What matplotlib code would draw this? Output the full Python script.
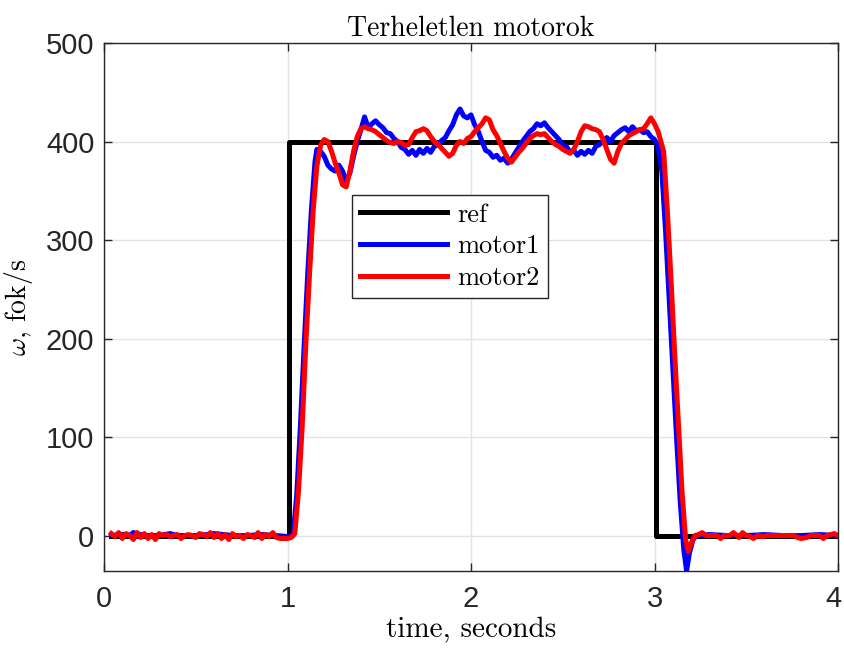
import numpy as np
import matplotlib
matplotlib.use("Agg")
import matplotlib.pyplot as plt
from matplotlib.transforms import ScaledTranslation

# reference step
t_ref = [0.04, 1.01, 1.01, 3.01, 3.01, 4.0]
w_ref = [0, 0, 400, 400, 0, 0]

# motor1 speed (fok/s)
t_m1 = [0.04, 0.10, 0.14, 0.16, 0.22, 0.30, 0.36, 0.40, 0.46, 0.52, 0.60, 0.70, 0.78, 0.86, 0.94, 1.00, 1.03,
        1.05, 1.07, 1.09, 1.11, 1.13, 1.15, 1.16, 1.18, 1.20, 1.22, 1.24, 1.26, 1.28, 1.30, 1.32, 1.34, 1.36,
        1.38, 1.40, 1.42, 1.44, 1.46, 1.48, 1.50, 1.52, 1.54, 1.56, 1.58, 1.60, 1.62, 1.64, 1.66, 1.68, 1.70,
        1.72, 1.74, 1.76, 1.78, 1.80, 1.82, 1.84, 1.86, 1.88, 1.90, 1.92, 1.94, 1.96, 1.98, 2.00, 2.02, 2.04,
        2.06, 2.08, 2.10, 2.12, 2.14, 2.16, 2.18, 2.20, 2.22, 2.24, 2.26, 2.28, 2.30, 2.32, 2.34, 2.36, 2.38,
        2.40, 2.42, 2.44, 2.46, 2.48, 2.50, 2.52, 2.54, 2.56, 2.58, 2.60, 2.62, 2.64, 2.66, 2.68, 2.70, 2.72,
        2.74, 2.76, 2.78, 2.80, 2.82, 2.84, 2.86, 2.88, 2.90, 2.92, 2.94, 2.96, 2.98, 3.00, 3.02, 3.04, 3.06,
        3.08, 3.10, 3.12, 3.14, 3.16, 3.175, 3.19, 3.21, 3.23, 3.30, 3.40, 3.50, 3.60, 3.70, 3.80, 3.90, 4.0]
w_m1 = [0, 1, 0, 3, 0, 0, 2, 0, 0, 0, 2, 0, 0, 1, 0, -1, 0,
        40, 110, 190, 265, 330, 380, 392, 390, 385, 376, 372, 370, 376, 370, 360, 368, 385,
        400, 412, 425, 414, 418, 421, 417, 414, 409, 408, 403, 400, 394, 392, 387, 391, 386,
        392, 388, 393, 389, 395, 397, 401, 404, 411, 417, 427, 433, 426, 424, 427, 417, 410,
        400, 391, 389, 384, 386, 381, 383, 378, 382, 388, 394, 400, 405, 410, 413, 418, 416,
        419, 414, 410, 406, 402, 396, 395, 389, 391, 386, 390, 387, 391, 388, 395, 397, 400,
        404, 400, 406, 409, 412, 414, 410, 415, 411, 412, 409, 410, 405, 402, 395, 370, 310,
        240, 170, 100, 35, -15, -36, -18, -4, 0, 1, 0, 0, 1, 0, 0, 1, 0]

# motor2 speed (fok/s)
t_m2 = [0.04, 0.06, 0.08, 0.10, 0.12, 0.14, 0.16, 0.18, 0.20, 0.22, 0.24, 0.26, 0.28, 0.30, 0.32, 0.34,
        0.36, 0.38, 0.40, 0.42, 0.44, 0.46, 0.48, 0.50, 0.52, 0.54, 0.56, 0.58, 0.60, 0.62, 0.64, 0.66,
        0.68, 0.70, 0.72, 0.74, 0.76, 0.78, 0.80, 0.82, 0.84, 0.86, 0.88, 0.90, 0.92, 0.94, 0.96, 0.98,
        1.00, 1.02, 1.04, 1.06, 1.08, 1.10, 1.12, 1.14, 1.16, 1.18, 1.20, 1.22, 1.24, 1.26, 1.28, 1.30,
        1.32, 1.34, 1.36, 1.38, 1.40, 1.42, 1.44, 1.46, 1.48, 1.50, 1.52, 1.54, 1.56, 1.58, 1.60, 1.62,
        1.64, 1.66, 1.68, 1.70, 1.72, 1.74, 1.76, 1.78, 1.80, 1.82, 1.84, 1.86, 1.88, 1.90, 1.92, 1.94,
        1.96, 1.98, 2.00, 2.02, 2.04, 2.06, 2.08, 2.10, 2.12, 2.14, 2.16, 2.18, 2.20, 2.22, 2.24, 2.26,
        2.28, 2.30, 2.32, 2.34, 2.36, 2.38, 2.40, 2.42, 2.44, 2.46, 2.48, 2.50, 2.52, 2.54, 2.56, 2.58,
        2.60, 2.62, 2.64, 2.66, 2.68, 2.70, 2.72, 2.74, 2.76, 2.78, 2.80, 2.82, 2.84, 2.86, 2.88, 2.90,
        2.92, 2.94, 2.96, 2.98, 3.00, 3.02, 3.05, 3.07, 3.09, 3.11, 3.13, 3.15, 3.17, 3.185, 3.20, 3.22,
        3.24, 3.26, 3.28, 3.34, 3.36, 3.38, 3.41, 3.43, 3.45, 3.46, 3.48, 3.50, 3.52, 3.54, 3.56, 3.59,
        3.61, 3.70, 3.76, 3.78, 3.80, 3.83, 3.85, 3.90, 3.92, 3.94, 3.98, 4.0]
w_m2 = [2, -1, 3, -3, 2, 0, -4, 3, -2, 2, -3, 1, -4, 2, 0, 1,
        -1, 0, 1, -3, 0, 1, 0, -2, 2, 1, -1, 3, -2, 2, -3, 1,
        -4, 2, -1, 0, -3, 1, 0, -2, 3, -3, 1, -1, 3, -2, -3, -3,
        -3, -2, 2, 45, 110, 195, 265, 330, 375, 396, 402, 400, 390, 378, 368, 356,
        354, 370, 390, 405, 413, 415, 413, 412, 410, 407, 404, 401, 399, 398, 400, 399,
        396, 397, 404, 410, 411, 413, 411, 405, 400, 397, 393, 389, 385, 388, 396, 400,
        398, 403, 405, 410, 414, 418, 424, 422, 412, 406, 398, 390, 383, 379, 384, 389,
        393, 398, 403, 406, 408, 407, 408, 404, 400, 397, 395, 392, 390, 388, 392, 400,
        410, 416, 415, 413, 412, 410, 402, 392, 382, 378, 390, 398, 402, 406, 408, 410,
        412, 413, 418, 424, 418, 410, 390, 330, 260, 185, 115, 45, -5, -16, -8, 0,
        1, 3, 0, 0, -3, 0, 0, 3, 0, -2, 3, 0, -1, -3, 0, -1,
        0, 0, 0, -2, -3, -2, 0, 0, -3, 0, 2, 0]

plt.rcParams['mathtext.fontset'] = 'cm'
plt.rcParams['font.family'] = ['Liberation Sans', 'DejaVu Sans']
SERIF = 'cmr10'

fig = plt.figure(figsize=(8.44, 6.51), dpi=100)
ax = fig.add_axes([104 / 844, 1 - 571 / 651, 734 / 844, 528 / 651])

ax.plot(t_ref, w_ref, color='k', lw=3.6, label='ref')
ax.plot(t_m1, w_m1, color=(0, 0, 1), lw=3.6, label='motor1')
ax.plot(t_m2, w_m2, color=(1, 0, 0), lw=3.6, label='motor2')

ax.set_xlim(0, 4)
ax.set_ylim(-36, 500)
ax.set_xticks([0, 1, 2, 3, 4])
ax.set_yticks([0, 100, 200, 300, 400, 500])
ax.grid(True, color='#e3e3e3', lw=1.0)
ax.set_axisbelow(True)
ax.tick_params(direction='in', length=6, width=1, colors='#262626', labelsize=21,
               top=True, right=True, labelcolor='#262626')
ax.tick_params(axis='x', pad=10)
ax.tick_params(axis='y', pad=7)
for s in ax.spines.values():
    s.set_color('#262626')
    s.set_linewidth(1.0)

# nudge the last x label so it stays inside the figure
last = ax.get_xticklabels()[-1]
last.set_transform(last.get_transform() + ScaledTranslation(-3 / 72, 0, fig.dpi_scale_trans))

ax.set_title('Terheletlen motorok', fontsize=20, family=SERIF, pad=5)
ax.set_xlabel('time, seconds', fontsize=21, family=SERIF, labelpad=3)
ax.set_ylabel(r'$\omega$, fok/s', fontsize=20, family=SERIF, labelpad=8)

leg = ax.legend(loc='upper left', bbox_to_anchor=(0.338, 0.712), borderaxespad=0,
                prop={'family': SERIF, 'size': 19}, handlelength=3.3, fancybox=False,
                framealpha=1, edgecolor='#262626', borderpad=0.3, labelspacing=0.3,
                handletextpad=0.4)
leg.get_frame().set_linewidth(1.0)

fig.savefig('out.png', dpi=100)
